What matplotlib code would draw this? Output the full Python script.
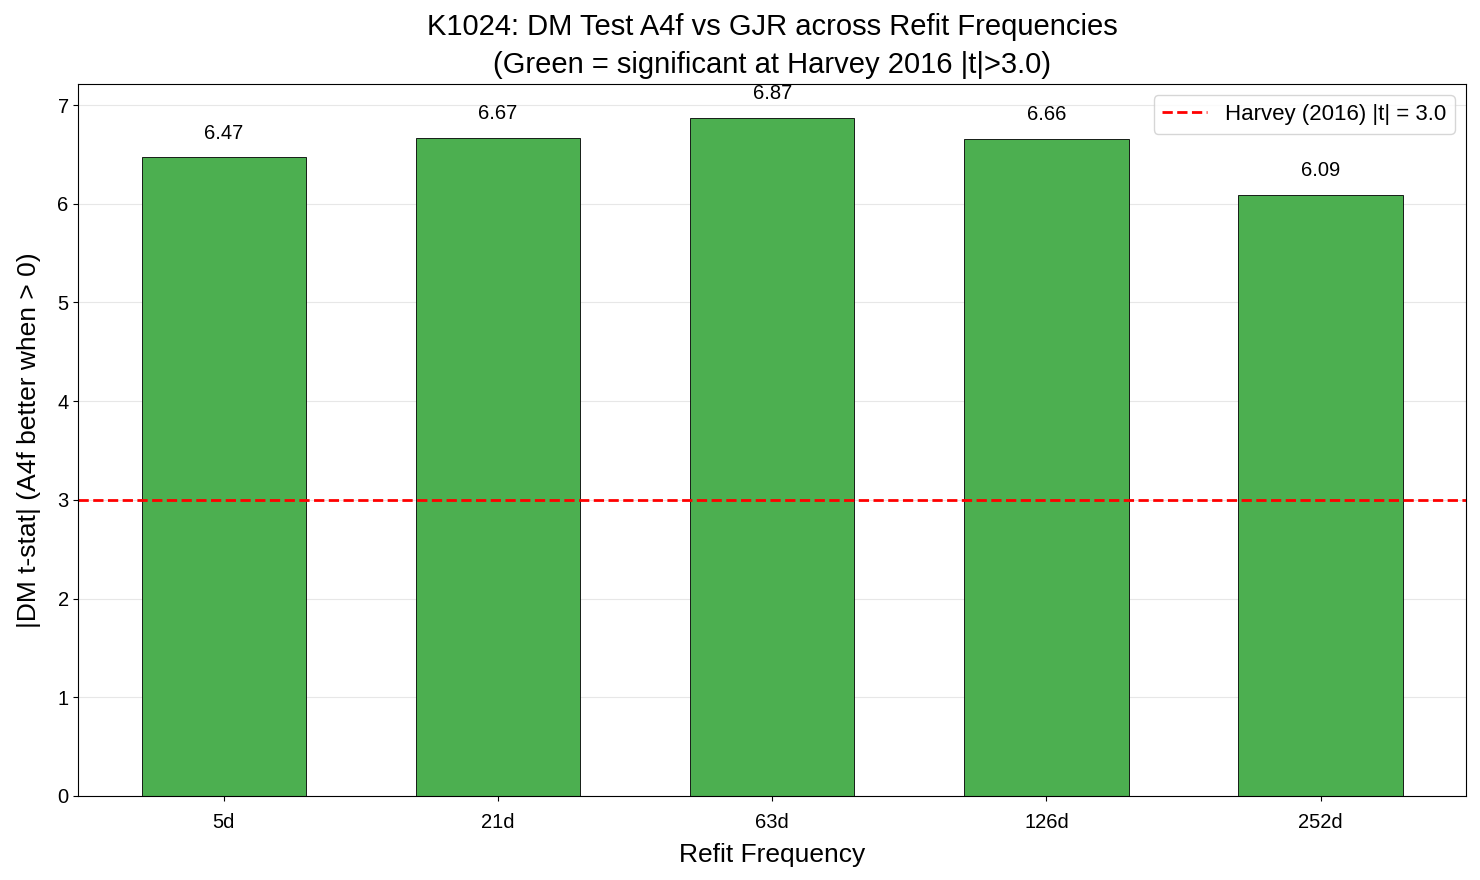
import numpy as np
import matplotlib
matplotlib.use('Agg')
import matplotlib.pyplot as plt

plt.rcParams['font.family'] = ['Liberation Sans', 'DejaVu Sans']

freqs = ['5d', '21d', '63d', '126d', '252d']
tstats = [6.47, 6.67, 6.87, 6.66, 6.09]
threshold = 3.0

fig, ax = plt.subplots(figsize=(14.8, 8.8), dpi=100)
x = np.arange(len(freqs))
colors = ['#4CAF50' if t > threshold else '#9E9E9E' for t in tstats]
bars = ax.bar(x, tstats, width=0.6, color=colors, edgecolor='black', linewidth=0.6)
ax.axhline(threshold, color='red', linestyle='--', linewidth=2, label='Harvey (2016) |t| = 3.0')

for b, t in zip(bars, tstats):
    ax.text(b.get_x() + b.get_width()/2, t + 0.15, f'{t:.2f}', ha='center', va='bottom', fontsize=14.5)

ax.set_xticks(x)
ax.set_xticklabels(freqs)
ax.tick_params(labelsize=14.5)
ax.tick_params(axis='x', pad=9)
ax.set_xlabel('Refit Frequency', fontsize=19, labelpad=8)
ax.set_ylabel('|DM t-stat| (A4f better when > 0)', fontsize=19, labelpad=12)
ax.set_title('K1024: DM Test A4f vs GJR across Refit Frequencies\n(Green = significant at Harvey 2016 |t|>3.0)',
             fontsize=21, linespacing=1.45, pad=8)
ax.set_ylim(0, max(tstats) * 1.05)
ax.grid(axis='y', alpha=0.3)
ax.set_axisbelow(True)
ax.legend(loc='upper right', fontsize=16)

plt.subplots_adjust(left=0.053, right=0.9905, top=0.9045, bottom=0.0955)
plt.savefig('out.png')
